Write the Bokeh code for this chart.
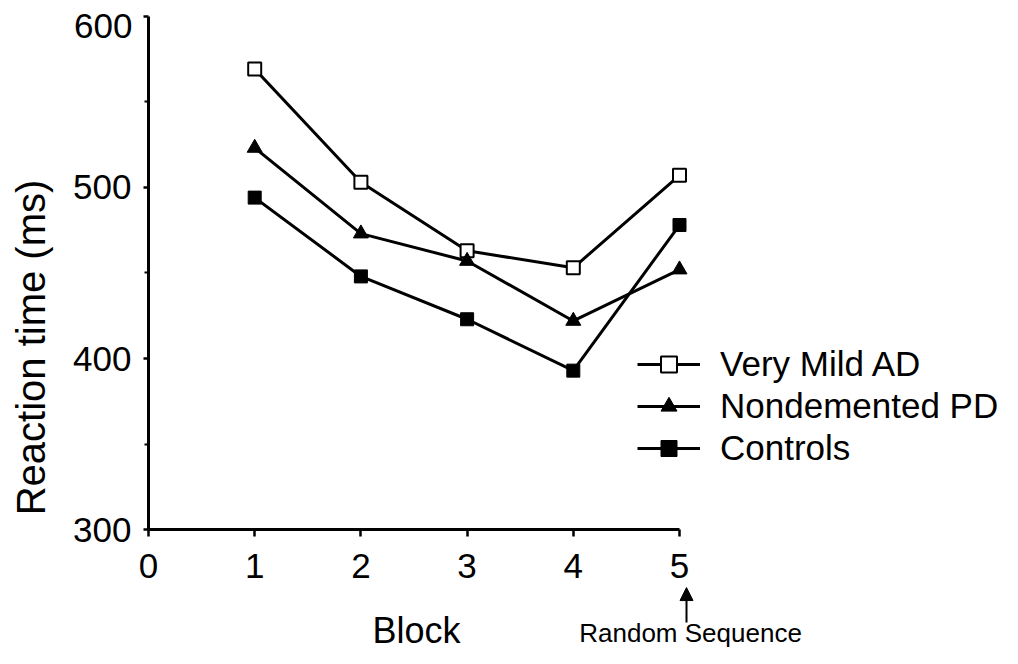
import math
from bokeh.plotting import figure
from bokeh.models import (Range1d, Legend, LegendItem, Label, Arrow, NormalHead,
                          FixedTicker)
from bokeh.embed import file_html
from bokeh.resources import INLINE

# ---- data ----
blocks = [1, 2, 3, 4, 5]
very_mild_ad = [569, 503, 463, 453, 507]
nondemented_pd = [523, 473, 457, 422, 452]
controls = [494, 448, 423, 393, 478]
x_ticks = [0, 1, 2, 3, 4, 5]
y_ticks = [300, 400, 500, 600]
y_minor = [350, 450, 550]
series_names = ["Very Mild AD", "Nondemented PD", "Controls"]

FONT = "Liberation Sans"
W, H = 1016, 660

p = figure(width=W, height=H, output_backend="svg", toolbar_location=None,
           x_range=Range1d(-1.3936, 8.1733), y_range=Range1d(223.82, 609.05),
           min_border=0)
p.outline_line_color = None
p.xgrid.visible = False
p.ygrid.visible = False
p.background_fill_color = "white"
p.border_fill_color = "white"

# axes drawn at the data origin, inside the frame
p.xaxis.fixed_location = 300
p.yaxis.fixed_location = 0
for ax in (p.xaxis[0], p.yaxis[0]):
    ax.axis_line_width = 3
    ax.axis_line_color = "black"
    ax.major_tick_line_width = 2.5
    ax.major_tick_line_color = "black"
    ax.major_tick_in = 0
    ax.major_label_text_font = FONT
    ax.major_label_text_color = "black"

p.xaxis.ticker = FixedTicker(ticks=x_ticks, minor_ticks=[])
p.xaxis.bounds = (0, 5)
p.xaxis.major_tick_out = 7
p.xaxis.major_label_standoff = 17
p.xaxis.major_label_text_font_size = "35px"

p.yaxis.ticker = FixedTicker(ticks=y_ticks, minor_ticks=y_minor)
p.yaxis.bounds = (300, 600)
p.yaxis.major_tick_out = 5
p.yaxis.minor_tick_out = 4
p.yaxis.minor_tick_in = 0
p.yaxis.minor_tick_line_width = 2
p.yaxis.minor_tick_line_color = "black"
p.yaxis.major_label_standoff = 12
p.yaxis.major_label_text_font_size = "35px"
p.yaxis.major_label_overrides = {600: ""}

# series
r1l = p.line(blocks, very_mild_ad, line_width=3, line_color="black")
r1m = p.scatter(blocks, very_mild_ad, marker="square", size=13,
                fill_color="white", line_color="black", line_width=2)
r2l = p.line(blocks, nondemented_pd, line_width=3, line_color="black")
r2m = p.scatter(blocks, nondemented_pd, marker="triangle", size=15,
                fill_color="black", line_color="black", line_width=1)
r3l = p.line(blocks, controls, line_width=3, line_color="black")
r3m = p.scatter(blocks, controls, marker="square", size=13,
                fill_color="black", line_color="black", line_width=1)

legend = Legend(items=[
    LegendItem(label=series_names[0], renderers=[r1l, r1m]),
    LegendItem(label=series_names[1], renderers=[r2l, r2m]),
    LegendItem(label=series_names[2], renderers=[r3l, r3m]),
], location=(637, 192), padding=0, margin=0, spacing=2,
    glyph_width=63, glyph_height=40, label_height=40, label_standoff=20,
    label_text_font=FONT, label_text_font_size="35px", label_text_color="black",
    border_line_alpha=0, background_fill_alpha=0)
p.add_layout(legend, "center")

# texts
p.add_layout(Label(x=-0.1507, y=593.9, text="600", text_align="right",
                   text_baseline="middle", text_font=FONT,
                   text_font_size="35px", text_color="black"))
p.add_layout(Label(x=-1.111, y=406.5, text="Reaction time (ms)", angle=math.pi / 2,
                   text_align="center", text_baseline="alphabetic",
                   text_font=FONT, text_font_size="40px", text_color="black"))
p.add_layout(Label(x=2.524, y=241.5, text="Block", text_align="center",
                   text_baseline="alphabetic", text_font=FONT,
                   text_font_size="36px", text_color="black"))
p.add_layout(Label(x=5.104, y=239.6, text="Random Sequence", text_align="center",
                   text_baseline="alphabetic", text_font=FONT,
                   text_font_size="26px", text_color="black"))
p.add_layout(Arrow(x_start=5.066, y_start=246.0, x_end=5.066, y_end=266.4,
                   line_width=2, line_color="black",
                   end=NormalHead(size=13, fill_color="black", line_color="black")))

open("out.html", "w").write(file_html(p, INLINE))
